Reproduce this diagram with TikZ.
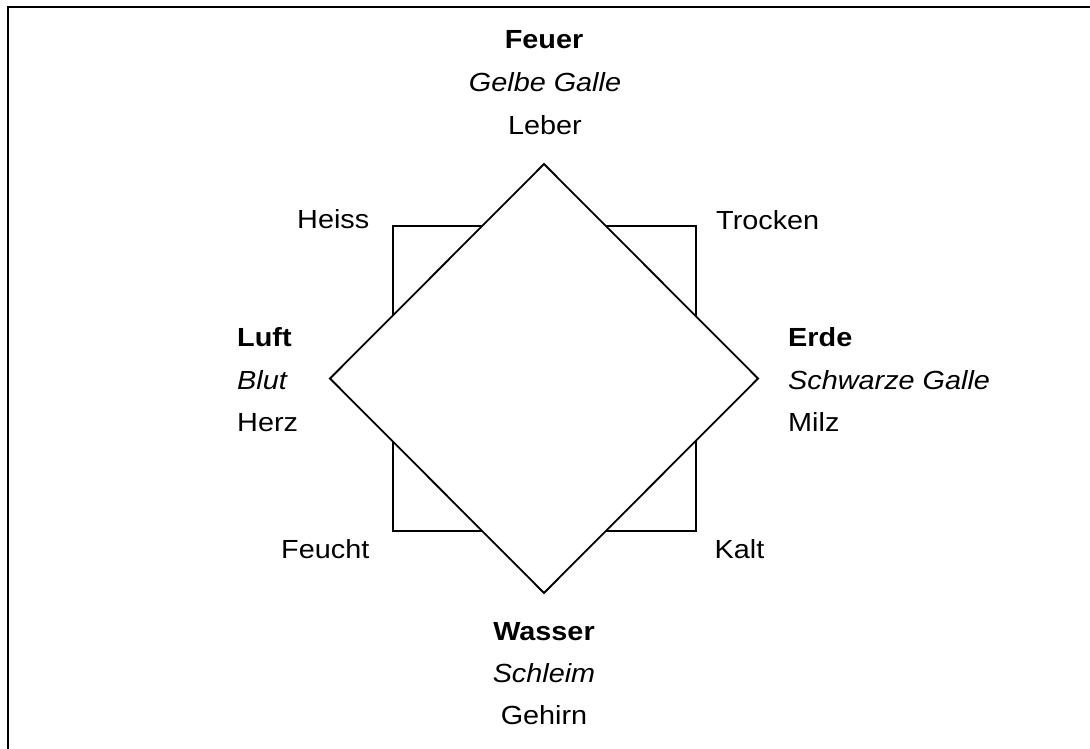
\documentclass[tikz,border=0pt]{standalone}
\usepackage{fontspec}
\setmainfont[FakeStretch=1.1]{Liberation Sans}
\begin{document}
\begin{tikzpicture}[x=1pt,y=-1pt,
  lbl/.style={inner sep=0pt,font=\fontsize{26.2}{30}\selectfont},
  elem/.style={lbl,font=\fontsize{26.2}{30}\selectfont\bfseries},
  humor/.style={lbl,font=\fontsize{26.2}{30}\selectfont\itshape},
  outline/.style={line width=1.8pt,line join=miter}]
\useasboundingbox (0,0) rectangle (1090,749);
% frame (extends beyond right and bottom edges)
\draw[line width=2.2pt] (8,760) -- (8,7.3) -- (1100,7.3);
% square and diamond
\coordinate (sqa) at (393,226);
\coordinate (sqb) at (696,531);
\draw[outline] (sqa) rectangle (sqb);
\coordinate (dt) at (544,164);
\coordinate (dr) at (758,378.5);
\coordinate (db) at (544,593);
\coordinate (dl) at (330,378.5);
\filldraw[outline,fill=white] (dt) -- (dr) -- (db) -- (dl) -- cycle;
% top: Feuer
\node[elem,anchor=base] (feuer) at (544,49) {Feuer};
\node[humor,anchor=base] (gelbe) at (545,91.5) {Gelbe Galle};
\node[lbl,anchor=base] (leber) at (545,134.5) {Leber};
% left: Luft
\node[elem,anchor=base west] (luft) at (237,346) {Luft};
\node[humor,anchor=base west] (blut) at (237,389) {Blut};
\node[lbl,anchor=base west] (herz) at (237,431.5) {Herz};
% right: Erde
\node[elem,anchor=base west] (erde) at (788,346) {Erde};
\node[humor,anchor=base west] (schwarz) at (788,389) {Schwarze Galle};
\node[lbl,anchor=base west] (milz) at (788,431.5) {Milz};
% bottom: Wasser
\node[elem,anchor=base] (wasser) at (544,640) {Wasser};
\node[humor,anchor=base] (schleim) at (544,682.3) {Schleim};
\node[lbl,anchor=base] (gehirn) at (544,724.3) {Gehirn};
% qualities
\node[lbl,anchor=base east] (heiss) at (369.5,228.5) {Heiss};
\node[lbl,anchor=base west] (trocken) at (716,229) {Trocken};
\node[lbl,anchor=base east] (feucht) at (369.5,558.3) {Feucht};
\node[lbl,anchor=base west] (kalt) at (714.5,558.3) {Kalt};
\end{tikzpicture}
\end{document}
